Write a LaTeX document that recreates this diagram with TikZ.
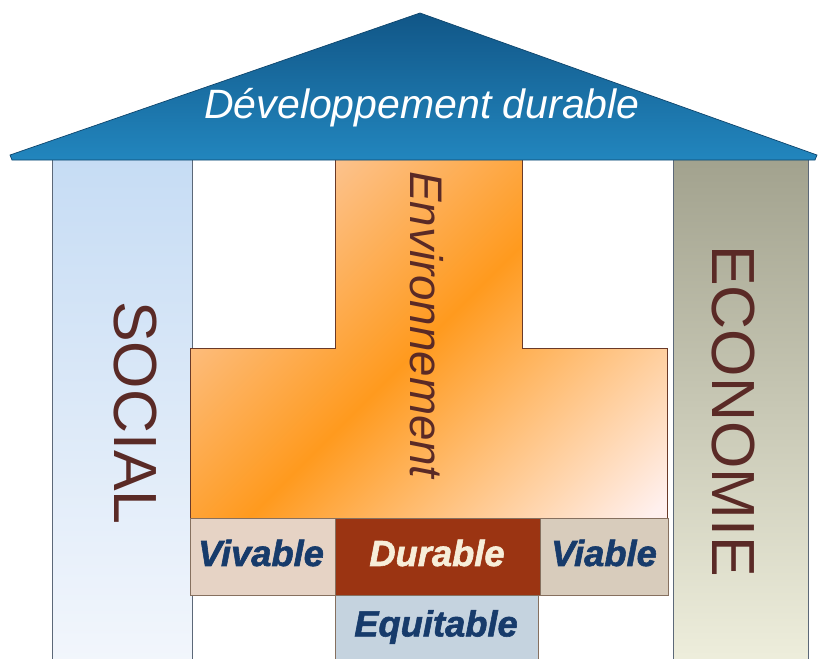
\documentclass[tikz,border=0pt]{standalone}
\usepackage{fontspec}
\setmainfont{Liberation Sans}
\newfontfamily\heavyfont[FakeBold=1.6]{Liberation Sans}

\definecolor{roofdark}{HTML}{115687}
\definecolor{rooflight}{HTML}{2286BE}
\definecolor{socialtop}{HTML}{C6DCF4}
\definecolor{socialbot}{HTML}{F2F6FC}
\definecolor{ecotop}{HTML}{A2A28E}
\definecolor{ecobot}{HTML}{EEEEDC}
\definecolor{pillarline}{HTML}{5C6878}
\definecolor{envlight}{HTML}{FBD2B8}
\definecolor{envorange}{HTML}{FF9A1E}
\definecolor{envpale}{HTML}{FFF0EE}
\definecolor{envline}{HTML}{6A3A28}
\definecolor{brownink}{HTML}{5A2A26}
\definecolor{navyink}{HTML}{173B6B}
\definecolor{vivfill}{HTML}{E6D3C5}
\definecolor{viafill}{HTML}{D8CCBC}
\definecolor{durfill}{HTML}{9B3412}
\definecolor{equfill}{HTML}{C5D3DF}
\definecolor{cellline}{HTML}{86705F}
\definecolor{durink}{HTML}{F7EED9}

\pgfdeclarehorizontalshading{envshade}{100bp}{color(0bp)=(envlight); color(18bp)=(envlight); color(50bp)=(envorange); color(84bp)=(envpale); color(100bp)=(envpale)}

\begin{document}
\begin{tikzpicture}[x=0.03cm, y=-0.03cm,
    pillar/.style={draw=pillarline, line width=0.6pt},
    pillartext/.style={font=\fontsize{52}{52}\selectfont, text=brownink, rotate=-90, inner sep=0},
    cell/.style={draw=cellline, line width=0.6pt, inner sep=0, minimum height=2.31cm},
    word/.style={font=\fontsize{31}{31}\selectfont\heavyfont\bfseries\itshape, text=navyink}]

    \useasboundingbox (0,0) rectangle (819,658);

    % pillars
    \draw[pillar, top color=socialtop, bottom color=socialbot] (52,158) rectangle (192,662);
    \draw[pillar, top color=ecotop, bottom color=ecobot] (673,158) rectangle (808,662);
    \node[pillartext] (social) at (135,413) {SOCIAL};
    \node[pillartext] (economie) at (733,411) {ECONOMIE};

    % environnement
    \draw[draw=envline, line width=0.6pt, shading=envshade, shading angle=-45]
        (335,158) -- (522,158) -- (522,348) -- (667,348) -- (667,518)
        -- (190,518) -- (190,348) -- (335,348) -- cycle;
    \node[font=\fontsize{39}{39}\selectfont\itshape, text=brownink, rotate=-90, inner sep=0]
        (env) at (427,325) {Environnement};

    % cells
    \node[cell, fill=vivfill, minimum width=4.35cm] (vivable) at (262.5,556.5) {};
    \node[cell, fill=durfill, minimum width=6.15cm] (durable) at (437.5,556.5) {};
    \node[cell, fill=viafill, minimum width=3.84cm] (viable) at (604,556.5) {};
    \draw[draw=cellline, line width=0.6pt, fill=equfill] (335,595) rectangle (538,662);
    \node[word] (vivtext) at (261,553) {Vivable};
    \node[word, text=durink] (durtext) at (437,553) {Durable};
    \node[word] (viatext) at (604,553) {Viable};
    \node[word] (equtext) at (436,627) {Equitable};

    % roof
    \draw[draw=roofdark!80!black, line width=0.6pt, top color=roofdark, bottom color=rooflight]
        (420,13) -- (817,155) -- (815,160) -- (12,160) -- (10,155) -- cycle;
    \node[font=\fontsize{35}{35}\selectfont\itshape, text=white] (titre) at (422,108) {Développement durable};
\end{tikzpicture}
\end{document}
